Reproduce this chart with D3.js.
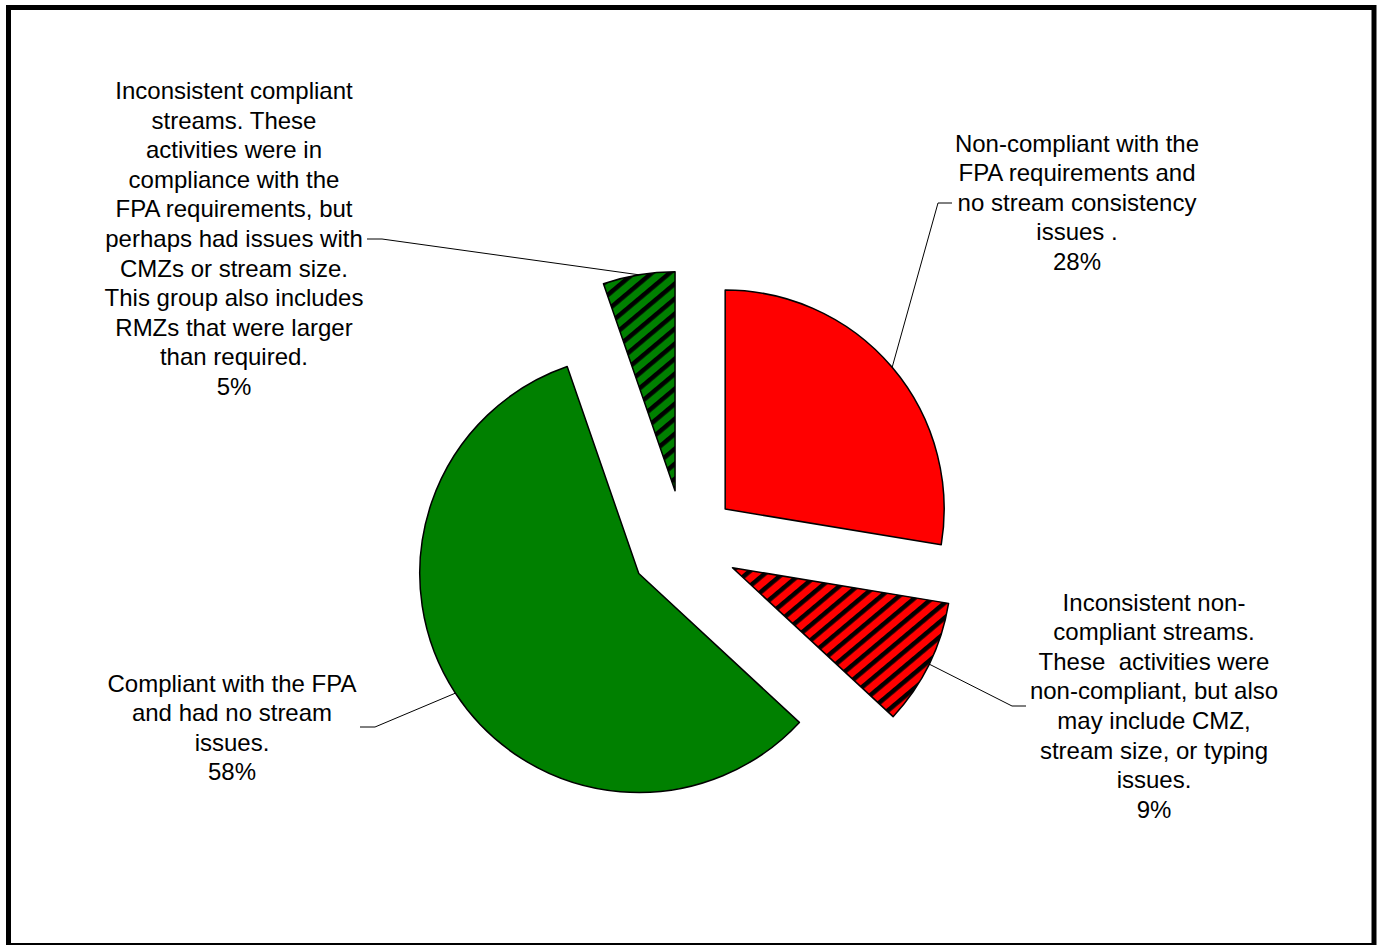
<!DOCTYPE html>
<meta charset="utf-8">
<script src="https://d3js.org/d3.v7.min.js"></script>
<style>
  body { margin: 0; background: #fff; }
  text { font-family: "Liberation Sans", Arial, sans-serif; font-size: 24px; fill: #000; white-space: pre; }
</style>
<div id="chart"></div>
<script>

// slice data (clockwise from 12 o'clock)
var categories = ["Non-compliant", "Inconsistent non-compliant", "Compliant", "Inconsistent compliant"];
var values = [27.6, 9.3, 57.8, 5.3];
var percentLabels = ["28%", "9%", "58%", "5%"];
var labelLines = [
  ["Non-compliant with the", "FPA requirements and", "no stream consistency", "issues ."],
  ["Inconsistent non-", "compliant streams.", "These  activities were", "non-compliant, but also", "may include CMZ,", "stream size, or typing", "issues."],
  ["Compliant with the FPA", "and had no stream", "issues."],
  ["Inconsistent compliant", "streams. These", "activities were in", "compliance with the", "FPA requirements, but", "perhaps had issues with", "CMZs or stream size.", "This group also includes", "RMZs that were larger", "than required."]
];

// styling / layout
var fills = ["#ff0000", "url(#hatchRed)", "#008000", "url(#hatchGreen)"];
var W = 1381, H = 945;
var cx = 684, cy = 544, radius = 219, explode = 54;
var lineH = 29.6;
// text block: center x, first baseline; leader: elbow start x, elbow end x, y
var labelPos = [
  {x: 1077, y: 151.5, lx0: 952, lx1: 938, ly: 203},
  {x: 1154, y: 610.5, lx0: 1026, lx1: 1012, ly: 706},
  {x: 232,  y: 691.5, lx0: 360, lx1: 375, ly: 727},
  {x: 234,  y: 99,    lx0: 367, lx1: 382, ly: 239}
];

var svg = d3.select("#chart").append("svg")
  .attr("width", W).attr("height", H);

var defs = svg.append("defs");
function hatch(id, color) {
  var p = defs.append("pattern")
    .attr("id", id)
    .attr("patternUnits", "userSpaceOnUse")
    .attr("width", 11.5).attr("height", 11.5)
    .attr("patternTransform", "rotate(50)");
  p.append("rect").attr("width", 11.5).attr("height", 11.5).attr("fill", color);
  p.append("rect").attr("width", 4.5).attr("height", 11.5).attr("fill", "#000");
}
hatch("hatchRed", "#ff0000");
hatch("hatchGreen", "#008000");

// frame
svg.append("rect")
  .attr("x", 8.5).attr("y", 7.5)
  .attr("width", 1365.5).attr("height", 938)
  .attr("fill", "none").attr("stroke", "#000").attr("stroke-width", 5);

var pie = d3.pie().sort(null).value(function(d) { return d; });
var arcs = pie(values);
var arc = d3.arc().innerRadius(0).outerRadius(radius);

function offset(d) {
  var a = (d.startAngle + d.endAngle) / 2;
  return [cx + explode * Math.sin(a), cy - explode * Math.cos(a)];
}

var g = svg.append("g");
g.selectAll("path")
  .data(arcs)
  .enter().append("path")
    .attr("d", arc)
    .attr("transform", function(d) { var o = offset(d); return "translate(" + o[0] + "," + o[1] + ")"; })
    .attr("fill", function(d, i) { return fills[i]; })
    .attr("stroke", "#000")
    .attr("stroke-width", 1.5)
    .attr("stroke-linejoin", "round");

// leader lines
arcs.forEach(function(d, i) {
  var o = offset(d);
  var a = (d.startAngle + d.endAngle) / 2;
  var ex = o[0] + radius * Math.sin(a), ey = o[1] - radius * Math.cos(a);
  var p = labelPos[i];
  svg.append("polyline")
    .attr("points", [[p.lx0, p.ly], [p.lx1, p.ly], [ex, ey]].map(function(q) { return q.join(","); }).join(" "))
    .attr("fill", "none").attr("stroke", "#000").attr("stroke-width", 1);
});

// labels
labelLines.forEach(function(lines, i) {
  var p = labelPos[i];
  var all = lines.concat([percentLabels[i]]);
  var t = svg.append("text").attr("text-anchor", "middle");
  all.forEach(function(s, k) {
    t.append("tspan").attr("x", p.x).attr("y", p.y + k * lineH).text(s);
  });
});

</script>
